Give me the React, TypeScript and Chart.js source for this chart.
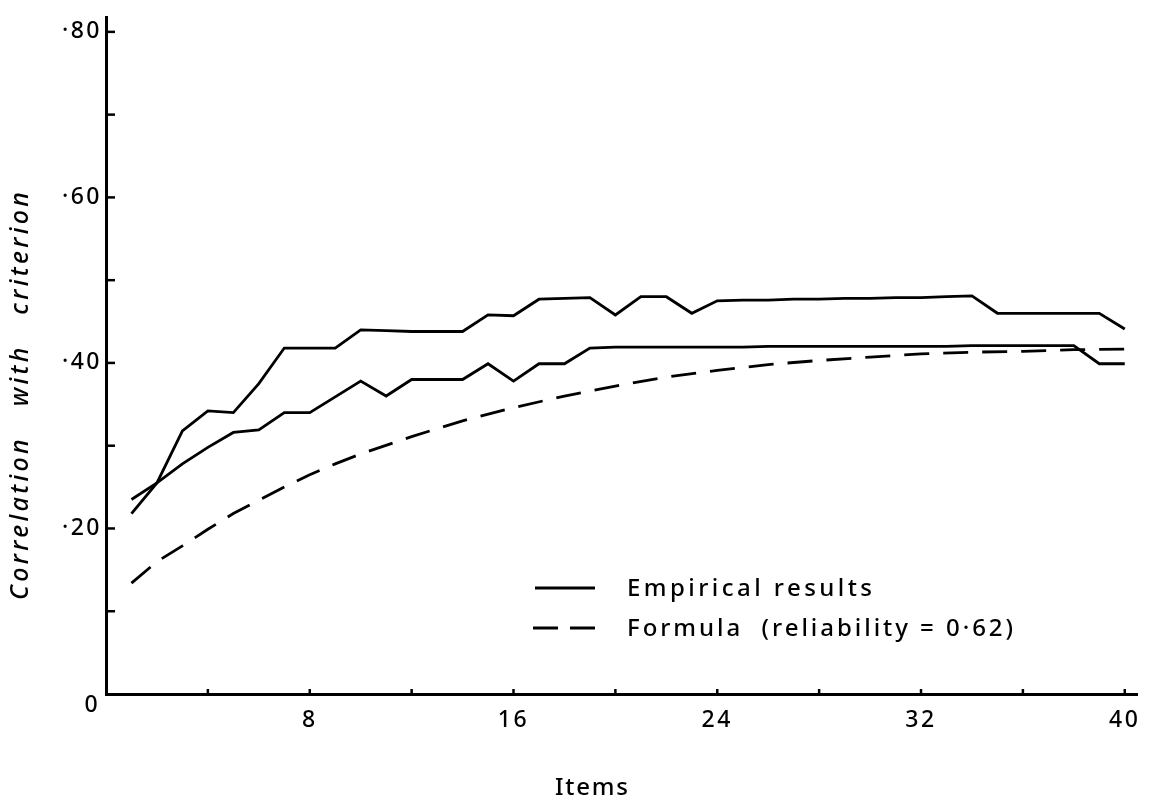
import React, { useEffect, useRef } from 'react';
import { Chart, registerables } from 'chart.js';

Chart.register(...registerables);

// ---- Data ----
const items = [
  1, 2, 3, 4, 5, 6, 7, 8, 9, 10, 11, 12, 13, 14, 15, 16, 17, 18, 19, 20,
  21, 22, 23, 24, 25, 26, 27, 28, 29, 30, 31, 32, 33, 34, 35, 36, 37, 38, 39, 40,
];
const empiricalA = [
  0.218, 0.255, 0.318, 0.342, 0.34, 0.375, 0.418, 0.418, 0.418, 0.44,
  0.439, 0.438, 0.438, 0.438, 0.458, 0.457, 0.477, 0.478, 0.479, 0.458,
  0.48, 0.48, 0.46, 0.475, 0.476, 0.476, 0.477, 0.477, 0.478, 0.478,
  0.479, 0.479, 0.48, 0.481, 0.46, 0.46, 0.46, 0.46, 0.46, 0.441,
];
const empiricalB = [
  0.235, 0.255, 0.278, 0.298, 0.316, 0.319, 0.34, 0.34, 0.359, 0.378,
  0.36, 0.38, 0.38, 0.38, 0.399, 0.378, 0.399, 0.399, 0.418, 0.419,
  0.419, 0.419, 0.419, 0.419, 0.419, 0.42, 0.42, 0.42, 0.42, 0.42,
  0.42, 0.42, 0.42, 0.421, 0.421, 0.421, 0.421, 0.421, 0.399, 0.399,
];
const formulaItems = [
  1, 2, 3, 4, 5, 6, 7, 8, 9, 10, 12, 14, 16, 18, 20, 22, 24, 26, 28, 30,
  32, 34, 36, 38, 40.5,
];
const formulaValues = [
  0.134, 0.16, 0.179, 0.199, 0.218, 0.234, 0.25, 0.265, 0.278, 0.29,
  0.311, 0.33, 0.346, 0.36, 0.372, 0.383, 0.391, 0.398, 0.403, 0.407,
  0.411, 0.413, 0.414, 0.416, 0.417,
];

const xTickLabels = [8, 16, 24, 32, 40];
const yTickLabels: Record<number, string> = {
  20: '\u00B720',
  40: '\u00B740',
  60: '\u00B760',
  80: '\u00B780',
};
const originLabel = '0';
const legendLabels = ['Empirical results', 'Formula  (reliability = 0\u00B762)'];
const xTitle = 'Items';
const yTitle = 'Correlation   with   criterion';

const FONT = "'Noto Sans', 'DejaVu Sans', sans-serif";
const WEIGHT = '500';
const INK = '#000';

function toPoints(xs: number[], ys: number[]) {
  return xs.map((x, i) => ({ x, y: ys[i] }));
}

function drawSpaced(
  ctx: CanvasRenderingContext2D,
  text: string,
  x: number,
  y: number,
  targetWidth: number
) {
  (ctx as any).letterSpacing = '0px';
  const w = ctx.measureText(text).width;
  const sp = Math.max(0, (targetWidth - w) / Math.max(1, text.length - 1));
  (ctx as any).letterSpacing = sp + 'px';
  ctx.fillText(text, x, y);
}

const decorPlugin = {
  id: 'decor',
  beforeDraw(chart: any) {
    (chart.ctx as any).letterSpacing = '2.5px';
  },
  afterDraw(chart: any) {
    const ctx: CanvasRenderingContext2D = chart.ctx;
    const { left, bottom } = chart.chartArea;
    const xs = chart.scales.x;
    const ys = chart.scales.y;
    ctx.save();
    ctx.strokeStyle = INK;
    ctx.fillStyle = INK;
    ctx.lineCap = 'butt';
    // inward tick marks
    ctx.lineWidth = 2.5;
    xs.ticks.forEach((t: any) => {
      if (t.value <= 0) return;
      const px = xs.getPixelForValue(t.value);
      ctx.beginPath();
      ctx.moveTo(px, bottom);
      ctx.lineTo(px, bottom - 5);
      ctx.stroke();
    });
    ys.ticks.forEach((t: any) => {
      if (t.value <= 0) return;
      const py = ys.getPixelForValue(t.value);
      ctx.beginPath();
      ctx.moveTo(left, py);
      ctx.lineTo(left + 9, py);
      ctx.stroke();
    });

    // origin label, set a little below the axis as in the original
    ctx.font = `${WEIGHT} 23px ${FONT}`;
    ctx.textAlign = 'center';
    ctx.textBaseline = 'middle';
    (ctx as any).letterSpacing = '0px';
    ctx.fillText(originLabel, 91, ys.getPixelForValue(0) + 11);

    // legend
    ctx.lineWidth = 2.8;
    ctx.setLineDash([]);
    ctx.beginPath();
    ctx.moveTo(535, 588);
    ctx.lineTo(595, 588);
    ctx.stroke();
    ctx.setLineDash([25, 12]);
    ctx.beginPath();
    ctx.moveTo(533, 628);
    ctx.lineTo(597, 628);
    ctx.stroke();
    ctx.setLineDash([]);
    ctx.font = `${WEIGHT} 24px ${FONT}`;
    ctx.textAlign = 'left';
    ctx.textBaseline = 'middle';
    drawSpaced(ctx, legendLabels[0], 627, 589, 245);
    drawSpaced(ctx, legendLabels[1], 627, 629, 386);

    // x title
    drawSpaced(ctx, xTitle, 555, 788, 73);

    // y title
    ctx.save();
    ctx.translate(21, 600);
    ctx.rotate(-Math.PI / 2);
    ctx.font = `italic ${WEIGHT} 25px ${FONT}`;
    ctx.textAlign = 'left';
    ctx.textBaseline = 'middle';
    drawSpaced(ctx, yTitle, 0, 0, 408);
    ctx.restore();
    (ctx as any).letterSpacing = '0px';
    ctx.restore();
  },
};

export default function App() {
  const ref = useRef<HTMLCanvasElement | null>(null);

  useEffect(() => {
    if (!ref.current) return;
    const chart = new Chart(ref.current, {
      type: 'line',
      data: {
        datasets: [
          {
            label: legendLabels[0],
            data: toPoints(items, empiricalA),
            borderColor: INK,
            borderWidth: 2.8,
            pointRadius: 0,
            tension: 0,
            fill: false,
          },
          {
            label: legendLabels[0],
            data: toPoints(items, empiricalB),
            borderColor: INK,
            borderWidth: 2.8,
            pointRadius: 0,
            tension: 0,
            fill: false,
          },
          {
            label: legendLabels[1],
            data: toPoints(formulaItems, formulaValues),
            borderColor: INK,
            borderWidth: 2.8,
            borderDash: [25, 14],
            pointRadius: 0,
            tension: 0,
            fill: false,
          },
        ],
      },
      options: {
        responsive: false,
        animation: false,
        events: [],
        layout: { padding: { left: 0, right: 14.5, top: 5, bottom: 0 } },
        plugins: {
          legend: { display: false },
          tooltip: { enabled: false },
          title: { display: false },
        },
        scales: {
          x: {
            type: 'linear',
            min: 0,
            max: 40.5,
            grid: { display: false, drawTicks: false },
            border: { display: true, color: INK, width: 3 },
            ticks: {
              stepSize: 4,
              includeBounds: false,
              autoSkip: false,
              maxRotation: 0,
              padding: 13,
              color: INK,
              font: { family: FONT, size: 23, weight: WEIGHT },
              callback: (v: any) => (xTickLabels.includes(Number(v)) ? String(v) : ''),
            },
            afterFit: (s: any) => {
              s.height = 104;
            },
          },
          y: {
            type: 'linear',
            min: 0,
            max: 0.817,
            grid: { display: false, drawTicks: false },
            border: { display: true, color: INK, width: 3 },
            ticks: {
              stepSize: 0.1,
              includeBounds: false,
              autoSkip: false,
              padding: 4,
              color: INK,
              font: { family: FONT, size: 23, weight: WEIGHT },
              callback: (v: any) => {
                const k = Math.round(Number(v) * 100);
                return yTickLabels[k] ?? '';
              },
            },
            afterFit: (s: any) => {
              s.width = 106;
            },
          },
        },
      },
      plugins: [decorPlugin],
    });
    return () => chart.destroy();
  }, []);

  return (
    <div style={{ position: 'fixed', left: 0, top: 0, width: 1152, height: 798, background: '#fff' }}>
      <canvas ref={ref} width={1152} height={798} style={{ display: 'block' }} />
    </div>
  );
}
